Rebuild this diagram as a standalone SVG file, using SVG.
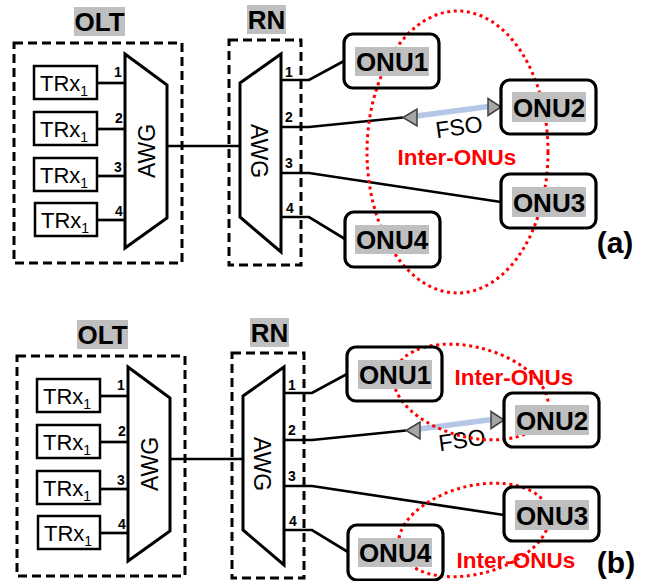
<svg xmlns="http://www.w3.org/2000/svg" width="649" height="581" viewBox="0 0 649 581">
<style>
.dash{fill:none;stroke:#000;stroke-width:3;stroke-dasharray:9 5}
.trx{fill:#fff;stroke:#000;stroke-width:2.5}
.awg{fill:#fff;stroke:#000;stroke-width:3;stroke-linejoin:miter}
.ln{fill:none;stroke:#000;stroke-width:2.7}
.onu{fill:none;stroke:#000;stroke-width:3.2}
.hl{fill:#bfbfbf}
.lbl{font-family:"Liberation Sans",Arial,sans-serif;font-weight:bold;font-size:26px;text-anchor:middle;fill:#000}
.t{font-family:"Liberation Sans",Arial,sans-serif;font-size:22px;fill:#000}
.sub{font-size:14px}
.port{font-family:"Liberation Sans",Arial,sans-serif;font-weight:bold;font-size:14px;text-anchor:middle;fill:#000}
.awgt{font-family:"Liberation Sans",Arial,sans-serif;font-size:23px;text-anchor:middle;fill:#000}
.fso{font-family:"Liberation Sans",Arial,sans-serif;font-size:23px;text-anchor:middle;fill:#000}
.red{font-family:"Liberation Sans",Arial,sans-serif;font-weight:bold;font-size:22.5px;text-anchor:middle;fill:#ff0000}
.ell{fill:none;stroke:#ff0000;stroke-width:3;stroke-dasharray:3 3.6}
.tri{fill:#a6a6a6;stroke:#404040;stroke-width:1.5;stroke-linejoin:miter}
.beam{stroke:#b4c7e7;stroke-width:5.5;fill:none}
.pan{font-family:"Liberation Sans",Arial,sans-serif;font-weight:bold;font-size:30px;text-anchor:middle;fill:#000}
</style>

<!-- Panel (a) -->
<g id="panel-a">
  <g id="connectors-a">
    <line class="ln" x1="97" y1="83" x2="125" y2="83"/>
    <line class="ln" x1="97" y1="129" x2="125" y2="129"/>
    <line class="ln" x1="97" y1="176" x2="125" y2="176"/>
    <line class="ln" x1="97" y1="220" x2="125" y2="220"/>
    <line class="ln" x1="167" y1="146" x2="240" y2="146"/>
    <polyline class="ln" points="281,80 309,80 344,61"/>
    <polyline class="ln" points="281,127 309,127 403,117.5"/>
    <polyline class="ln" points="281,173 309,173 501,202"/>
    <polyline class="ln" points="281,217 309,217 345,239"/>
  </g>
  <g id="olt-a">
    <rect class="dash" x="14" y="43" width="168" height="220"/>
    <rect class="hl" x="74" y="7" width="51" height="29"/>
    <text class="lbl" x="99.5" y="31">OLT</text>
    <g id="trx1-a"><rect class="trx" x="34" y="66" width="63" height="33"/><text class="t" x="40" y="90.5">TRx<tspan class="sub" dy="5">1</tspan></text></g>
    <g id="trx2-a"><rect class="trx" x="34" y="112" width="63" height="33"/><text class="t" x="40" y="136.5">TRx<tspan class="sub" dy="5">1</tspan></text></g>
    <g id="trx3-a"><rect class="trx" x="34" y="158" width="63" height="33"/><text class="t" x="40" y="182.5">TRx<tspan class="sub" dy="5">1</tspan></text></g>
    <g id="trx4-a"><rect class="trx" x="35" y="203" width="62" height="33"/><text class="t" x="41" y="227.5">TRx<tspan class="sub" dy="5">1</tspan></text></g>
    <g id="awg-olt-a">
      <polygon class="awg" points="125,54 167,85 167,218 125,248"/>
      <text class="awgt" transform="translate(147,151) rotate(-90)" y="8">AWG</text>
    </g>
    <text class="port" x="118" y="77">1</text>
    <text class="port" x="119" y="123">2</text>
    <text class="port" x="118" y="172">3</text>
    <text class="port" x="119" y="216">4</text>
  </g>
  <g id="rn-a">
    <rect class="dash" x="229" y="40" width="72" height="225"/>
    <rect class="hl" x="247" y="5" width="39" height="29"/>
    <text class="lbl" x="266.5" y="29">RN</text>
    <polygon class="awg" points="240,83 281,54 281,252 240,217"/>
    <text class="awgt" transform="translate(259,151) rotate(90)" y="8">AWG</text>
    <text class="port" x="289" y="77">1</text>
    <text class="port" x="289" y="122">2</text>
    <text class="port" x="289" y="168">3</text>
    <text class="port" x="290" y="213">4</text>
  </g>
  <g id="fso-a">
    <line class="beam" x1="416" y1="116" x2="489" y2="106.5"/>
    <polygon class="tri" points="403,117.5 417,109 417,126"/>
    <polygon class="tri" points="488,98.5 488,115.5 501,107"/>
    <text class="fso" transform="translate(459,127) rotate(-8)" y="8">FSO</text>
  </g>
  <text class="red" x="457" y="165">Inter-ONUs</text>
  <ellipse class="ell" cx="457.5" cy="152" rx="90.5" ry="141"/>
  <g id="onu1-a"><rect class="onu" x="344" y="34" width="95" height="54" rx="9"/><rect class="hl" x="355" y="47" width="74" height="29"/><text class="lbl" x="392" y="71">ONU1</text></g>
  <g id="onu2-a"><rect class="onu" x="501" y="80" width="95" height="54" rx="9"/><rect class="hl" x="512" y="92" width="74" height="30"/><text class="lbl" x="549" y="116.5">ONU2</text></g>
  <g id="onu3-a"><rect class="onu" x="501" y="174" width="95" height="54" rx="9"/><rect class="hl" x="512" y="187" width="74" height="30"/><text class="lbl" x="549" y="211.5">ONU3</text></g>
  <g id="onu4-a"><rect class="onu" x="345" y="212" width="95" height="55" rx="9"/><rect class="hl" x="355" y="225" width="74" height="29"/><text class="lbl" x="392" y="249">ONU4</text></g>
  <text class="pan" x="615" y="253">(a)</text>
</g>

<!-- Panel (b) -->
<g id="panel-b">
  <g transform="translate(3,313)">
    <g id="connectors-b">
      <line class="ln" x1="97" y1="83" x2="125" y2="83"/>
      <line class="ln" x1="97" y1="129" x2="125" y2="129"/>
      <line class="ln" x1="97" y1="176" x2="125" y2="176"/>
      <line class="ln" x1="97" y1="220" x2="125" y2="220"/>
      <line class="ln" x1="167" y1="146" x2="240" y2="146"/>
      <polyline class="ln" points="281,80 309,80 344,61"/>
      <polyline class="ln" points="281,127 309,127 403,117.5"/>
      <polyline class="ln" points="281,173 309,173 501,202"/>
      <polyline class="ln" points="281,217 309,217 345,239"/>
    </g>
    <g id="olt-b">
      <rect class="dash" x="14" y="43" width="168" height="220"/>
      <rect class="hl" x="74" y="7" width="51" height="29"/>
      <text class="lbl" x="99.5" y="31">OLT</text>
      <g id="trx1-b"><rect class="trx" x="34" y="66" width="63" height="33"/><text class="t" x="40" y="90.5">TRx<tspan class="sub" dy="5">1</tspan></text></g>
      <g id="trx2-b"><rect class="trx" x="34" y="112" width="63" height="33"/><text class="t" x="40" y="136.5">TRx<tspan class="sub" dy="5">1</tspan></text></g>
      <g id="trx3-b"><rect class="trx" x="34" y="158" width="63" height="33"/><text class="t" x="40" y="182.5">TRx<tspan class="sub" dy="5">1</tspan></text></g>
      <g id="trx4-b"><rect class="trx" x="35" y="203" width="62" height="33"/><text class="t" x="41" y="227.5">TRx<tspan class="sub" dy="5">1</tspan></text></g>
      <g id="awg-olt-b">
        <polygon class="awg" points="125,54 167,85 167,218 125,248"/>
        <text class="awgt" transform="translate(147,151) rotate(-90)" y="8">AWG</text>
      </g>
      <text class="port" x="118" y="77">1</text>
      <text class="port" x="119" y="123">2</text>
      <text class="port" x="118" y="172">3</text>
      <text class="port" x="119" y="216">4</text>
    </g>
    <g id="rn-b">
      <rect class="dash" x="229" y="40" width="72" height="225"/>
      <rect class="hl" x="247" y="5" width="39" height="29"/>
      <text class="lbl" x="266.5" y="29">RN</text>
      <polygon class="awg" points="240,83 281,54 281,252 240,217"/>
      <text class="awgt" transform="translate(259,151) rotate(90)" y="8">AWG</text>
      <text class="port" x="289" y="77">1</text>
      <text class="port" x="289" y="122">2</text>
      <text class="port" x="289" y="168">3</text>
      <text class="port" x="290" y="213">4</text>
    </g>
    <g id="fso-b">
      <line class="beam" x1="416" y1="116" x2="489" y2="106.5"/>
      <polygon class="tri" points="403,117.5 417,109 417,126"/>
      <polygon class="tri" points="488,98.5 488,115.5 501,107"/>
      <text class="fso" transform="translate(459,127) rotate(-8)" y="8">FSO</text>
    </g>
  </g>
  <text class="red" x="514" y="385">Inter-ONUs</text>
  <text class="red" x="516" y="568">Inter-ONUs</text>
  <ellipse class="ell" cx="471" cy="392" rx="79" ry="45" transform="rotate(14.5 471 392)"/>
  <ellipse class="ell" cx="474" cy="530" rx="77" ry="44" transform="rotate(-14.5 474 530)"/>
  <g transform="translate(3,313)">
    <g id="onu1-b"><rect class="onu" x="344" y="34" width="95" height="54" rx="9"/><rect class="hl" x="355" y="47" width="74" height="29"/><text class="lbl" x="392" y="71">ONU1</text></g>
    <g id="onu2-b"><rect class="onu" x="501" y="80" width="95" height="54" rx="9"/><rect class="hl" x="512" y="92" width="74" height="30"/><text class="lbl" x="549" y="116.5">ONU2</text></g>
    <g id="onu3-b"><rect class="onu" x="501" y="174" width="95" height="54" rx="9"/><rect class="hl" x="512" y="187" width="74" height="30"/><text class="lbl" x="549" y="211.5">ONU3</text></g>
    <g id="onu4-b"><rect class="onu" x="345" y="212" width="95" height="55" rx="9"/><rect class="hl" x="355" y="225" width="74" height="29"/><text class="lbl" x="392" y="249">ONU4</text></g>
  </g>
  <text class="pan" x="616" y="573">(b)</text>
</g>
</svg>
